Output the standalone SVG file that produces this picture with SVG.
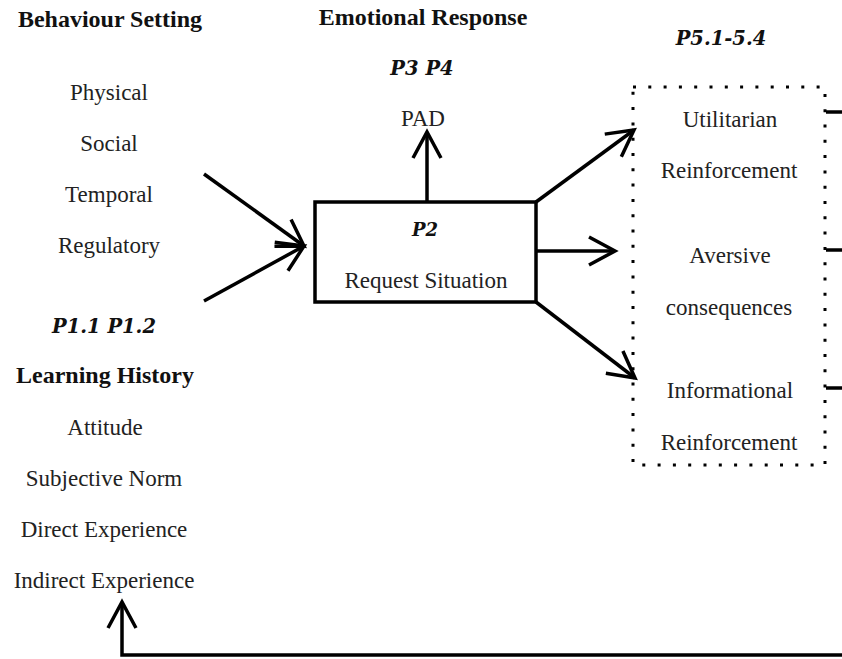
<svg xmlns="http://www.w3.org/2000/svg" width="842" height="659" viewBox="0 0 842 659">
  <style>
    .t { font-family: "Liberation Serif", "Times New Roman", serif; font-size: 23px; fill: #222; text-anchor: middle; }
    .h { font-family: "Liberation Serif", "Times New Roman", serif; font-size: 24px; font-weight: bold; fill: #111; text-anchor: middle; }
    .p { font-family: "DejaVu Serif", serif; font-size: 19.5px; font-style: italic; font-weight: bold; fill: #111; text-anchor: middle; }
    .ln { fill: none; stroke: #000; stroke-width: 3.5; stroke-linecap: butt; }
    .dot { fill: none; stroke: #000; stroke-width: 3; stroke-dasharray: 3 12.3; }
  </style>
  <defs>
    <marker id="arrow" markerUnits="userSpaceOnUse" markerWidth="40" markerHeight="40" viewBox="-32 -20 40 40" refX="0" refY="0" orient="auto">
      <path d="M -26,-14 L 0,0 L -26,14" fill="none" stroke="#000" stroke-width="3.5" stroke-linejoin="miter"/>
    </marker>
  </defs>
  <rect width="842" height="659" fill="#fff"/>

  <!-- Behaviour setting -->
  <g id="behaviour-setting">
    <text class="h" x="110" y="27">Behaviour Setting</text>
    <text class="t" x="109" y="100">Physical</text>
    <text class="t" x="109" y="151">Social</text>
    <text class="t" x="109" y="202">Temporal</text>
    <text class="t" x="109" y="253">Regulatory</text>
  </g>

  <!-- Learning history -->
  <g id="learning-history">
    <text class="p" x="104" y="333">P1.1 P1.2</text>
    <text class="h" x="105" y="383">Learning History</text>
    <text class="t" x="105" y="435">Attitude</text>
    <text class="t" x="104" y="486">Subjective Norm</text>
    <text class="t" x="104" y="537">Direct Experience</text>
    <text class="t" x="104" y="588">Indirect Experience</text>
  </g>

  <!-- Emotional response -->
  <g id="emotional-response">
    <text class="h" x="423" y="25">Emotional Response</text>
    <text class="p" x="422" y="75">P3 P4</text>
    <text class="t" x="423" y="126">PAD</text>
  </g>

  <!-- Request situation -->
  <g id="request-situation">
    <rect x="315" y="202" width="221" height="100" fill="none" stroke="#000" stroke-width="3.5"/>
    <text class="p" x="425" y="236" style="font-size:18px">P2</text>
    <text class="t" x="426" y="288">Request Situation</text>
  </g>

  <!-- Consequences -->
  <g id="consequences">
    <text class="p" x="721" y="45">P5.1-5.4</text>
    <rect class="dot" x="633" y="87" width="192" height="378"/>
    <text class="t" x="730" y="127">Utilitarian</text>
    <text class="t" x="729" y="178">Reinforcement</text>
    <text class="t" x="730" y="263">Aversive</text>
    <text class="t" x="729" y="315">consequences</text>
    <text class="t" x="730" y="398">Informational</text>
    <text class="t" x="729" y="450">Reinforcement</text>
  </g>

  <!-- Connectors -->
  <g id="connectors">
    <line class="ln" x1="204" y1="174" x2="304" y2="246" marker-end="url(#arrow)"/>
    <line class="ln" x1="204" y1="301" x2="304" y2="246" marker-end="url(#arrow)"/>
    <line class="ln" x1="427" y1="202" x2="427" y2="132" marker-end="url(#arrow)"/>
    <line class="ln" x1="536" y1="202" x2="634" y2="130" marker-end="url(#arrow)"/>
    <line class="ln" x1="536" y1="251" x2="615" y2="251" marker-end="url(#arrow)"/>
    <line class="ln" x1="536" y1="302" x2="635" y2="378" marker-end="url(#arrow)"/>
    <line class="ln" x1="826" y1="112" x2="842" y2="112"/>
    <line class="ln" x1="826" y1="250" x2="842" y2="250"/>
    <line class="ln" x1="826" y1="388" x2="842" y2="388"/>
    <polyline class="ln" points="842,655 122,655 122,602" marker-end="url(#arrow)"/>
  </g>
</svg>
